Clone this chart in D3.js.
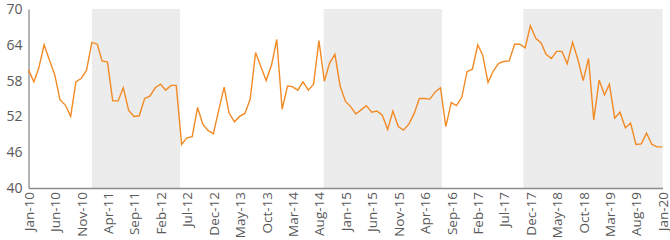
<!DOCTYPE html>
<head>
  <meta charset="utf-8">
  <script src="https://d3js.org/d3.v7.min.js"></script>
  <style>
    body { margin:0; background:#fff; font-family: "Open Sans", sans-serif; }
    .tick text { fill: #595959; }
  </style>
</head>
<body>
  <script>
    // monthly values, Jan-10 .. Jan-20
    var startMonth = "2010-01";
    var values = [
      59.8, 57.8, 60.1, 64.0, 61.5, 59.0, 54.8, 53.9, 52.0, 57.8, 58.4, 59.7,
      64.4, 64.1, 61.3, 61.1, 54.6, 54.6, 56.8, 53.0, 52.0, 52.1, 55.0, 55.4,
      56.8, 57.4, 56.4, 57.2, 57.2, 47.3, 48.4, 48.6, 53.5, 50.7, 49.6, 49.1,
      53.1, 56.9, 52.6, 51.1, 52.0, 52.5, 54.9, 62.7, 60.3, 58.0, 60.6, 64.9,
      53.2, 57.1, 57.0, 56.4, 57.8, 56.4, 57.4, 64.7, 57.9, 60.9, 62.4, 57.1,
      54.5, 53.6, 52.4, 53.1, 53.8, 52.7, 52.9, 52.2, 49.8, 52.9, 50.3, 49.7,
      50.7, 52.5, 55.0, 55.0, 54.9, 56.1, 56.8, 50.3, 54.3, 53.8, 55.2, 59.5,
      59.9, 64.0, 62.3, 57.7, 59.6, 60.9, 61.2, 61.3, 64.1, 64.1, 63.5, 67.2,
      65.1, 64.3, 62.4, 61.7, 62.9, 62.9, 60.8, 64.4, 61.5, 58.0, 61.7, 51.4,
      58.1, 55.6, 57.4, 51.7, 52.7, 50.1, 50.9, 47.3, 47.4, 49.2, 47.3, 46.9,
      46.9
    ];
    var shadeStarts = ["2011-01-01", "2014-08-28", "2017-10-22"];
    var shadeEnds = ["2012-05-23", "2016-07-10", "2020-01-01"];
    var yTicks = [40, 46, 52, 58, 64, 70];
    var tickEveryMonths = 5;

    var margin = { top: 9, right: 7.5, bottom: 52, left: 28.5 };
    var width = 670 - margin.left - margin.right;
    var height = 240 - margin.top - margin.bottom;

    var parseMonth = d3.timeParse("%Y-%m");
    var parseDay = d3.timeParse("%Y-%m-%d");
    var t0 = parseMonth(startMonth);
    var data = values.map(function(v, i) {
      return { date: d3.timeMonth.offset(t0, i), value: v };
    });

    var svg = d3.select("body").append("svg")
      .attr("width", 670)
      .attr("height", 240)
      .append("g")
        .attr("transform", "translate(" + margin.left + "," + margin.top + ")");

    var x = d3.scaleTime()
      .domain(d3.extent(data, function(d) { return d.date; }))
      .range([0, width]);

    var y = d3.scaleLinear()
      .domain([40, 70])
      .range([height, 0]);

    // shaded periods
    svg.selectAll(".shade")
      .data(shadeStarts.map(function(s, i) { return [parseDay(s), parseDay(shadeEnds[i])]; }))
      .enter()
      .append("rect")
      .attr("class", "shade")
      .attr("x", function(d) { return x(d[0]); })
      .attr("width", function(d) { return x(d[1]) - x(d[0]); })
      .attr("y", 0)
      .attr("height", height)
      .style("fill", "#ececec");

    var xaxis = d3.axisBottom(x)
      .tickValues(data.filter(function(d, i) { return i % tickEveryMonths == 0; }).map(function(d) { return d.date; }))
      .tickFormat(d3.timeFormat("%b-%y"))
      .tickSize(0)
      .tickPadding(0);

    var gx = svg.append("g")
      .attr("transform", "translate(0," + height + ")")
      .call(xaxis);
    gx.select(".domain").style("stroke", "#8c8c8c").style("stroke-width", 1.3);
    gx.selectAll("text")
      .attr("transform", "rotate(-90)")
      .attr("text-anchor", "end")
      .attr("x", -4)
      .attr("y", 0)
      .attr("dy", "0.36em")
      .style("font-size", "13.5px")
      .style("font-family", "Open Sans, sans-serif");

    var yaxis = d3.axisLeft(y)
      .tickValues(yTicks)
      .tickSize(0)
      .tickPadding(6);

    var gy = svg.append("g").call(yaxis);
    gy.select(".domain").style("stroke", "#8c8c8c").style("stroke-width", 1.3);
    gy.selectAll("text")
      .style("font-size", "14px")
      .style("font-family", "Open Sans, sans-serif");

    var line = d3.line()
      .x(function(d) { return x(d.date); })
      .y(function(d) { return y(d.value); });

    svg.append("path")
      .datum(data)
      .attr("d", line)
      .style("fill", "none")
      .style("stroke", "#f28a25")
      .style("stroke-width", 1.4)
      .style("stroke-linejoin", "miter");
  </script>
</body>
